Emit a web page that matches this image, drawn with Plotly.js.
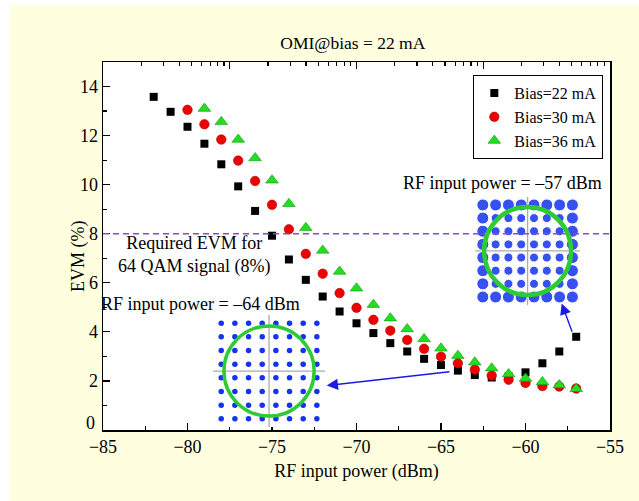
<!DOCTYPE html>
<html>
<head>
<meta charset="utf-8">
<script src="https://cdn.plot.ly/plotly-3.0.1.min.js"></script>
<style>
  html, body { margin: 0; padding: 0; background: #ffffff; }
  #chart { position: absolute; left: 10px; top: 5px; width: 629px; height: 496px; }
</style>
</head>
<body>
<div id="chart"></div>
<script>
// ---- Data ----
const x22 = [-82,-81,-80,-79,-78,-77,-76,-75,-74,-73,-72,-71,-70,-69,-68,-67,-66,-65,-64,-63,-62,-61,-60,-59,-58,-57];
const evm22 = [13.58,12.97,12.36,11.67,10.83,9.93,8.93,7.92,6.95,6.12,5.44,4.83,4.35,3.95,3.54,3.2,2.9,2.65,2.42,2.24,2.14,2.18,2.35,2.72,3.2,3.8];
const x30 = [-80,-79,-78,-77,-76,-75,-74,-73,-72,-71,-70,-69,-68,-67,-66,-65,-64,-63,-62,-61,-60,-59,-58,-57];
const evm30 = [13.05,12.46,11.84,10.98,10.15,9.18,8.18,7.18,6.37,5.58,4.98,4.49,4.05,3.67,3.31,2.99,2.72,2.46,2.22,2.05,1.92,1.79,1.77,1.69];
const x36 = [-79,-78,-77,-76,-75,-74,-73,-72,-71,-70,-69,-68,-67,-66,-65,-64,-63,-62,-61,-60,-59,-58,-57];
const evm36 = [13.1,12.56,11.84,11.09,10.18,9.22,8.24,7.32,6.46,5.78,5.11,4.56,4.12,3.71,3.33,3.03,2.76,2.52,2.28,2.1,1.96,1.83,1.68];
const seriesNames = ['Bias=22 mA','Bias=30 mA','Bias=36 mA'];
const requiredEVM = 8;
// y tick labels (0 is placed separately, slightly raised as in the original)
const yTickVals = [2,4,6,8,10,12,14];
// 64-QAM constellation levels (I and Q)
const qamLevels = [-7,-5,-3,-1,1,3,5,7];
// top (log-style) axis tick values
const topMajor = [1,10,100,1000,10000];
const topMinor = [2,3,4,5,6,7,8,9,20,30,40,50,60,70,80,90,200,300,400,500,600,700,800,900,2000,3000,4000,5000,6000,7000,8000,9000];

// ---- Build constellation grid ----
const gI = [], gQ = [];
qamLevels.forEach(q => qamLevels.forEach(i => { gI.push(i); gQ.push(q); }));
const noisySizes = gI.map((v, k) => (Math.abs(v) === 7 || Math.abs(gQ[k]) === 7) ? 12 : 9);

const serif = 'Liberation Serif, Times New Roman, serif';
const blue = '#1432F0';
const green = '#2DCC35';

const traces = [
  {x: x22, y: evm22, name: seriesNames[0], type: 'scatter', mode: 'markers',
   marker: {symbol: 'square', size: 8, color: '#000000'}},
  {x: x30, y: evm30, name: seriesNames[1], type: 'scatter', mode: 'markers',
   marker: {symbol: 'circle', size: 9.5, color: '#EE0000', line: {color: '#B00000', width: 0.6}}},
  {x: x36, y: evm36, name: seriesNames[2], type: 'scatter', mode: 'markers',
   marker: {symbol: 'triangle-up', size: 11, color: '#22DD22', line: {color: '#119911', width: 0.6}}},
  {x: [null], y: [null], xaxis: 'x2', yaxis: 'y', showlegend: false, hoverinfo: 'skip', mode: 'markers'},
  // clean constellation (-64 dBm)
  {x: gI, y: gQ, xaxis: 'x3', yaxis: 'y3', type: 'scatter', mode: 'markers', showlegend: false,
   marker: {size: 5.5, color: blue}},
  // noisy constellation (-57 dBm)
  {x: gI, y: gQ, xaxis: 'x4', yaxis: 'y4', type: 'scatter', mode: 'markers', showlegend: false,
   marker: {size: noisySizes, color: blue, opacity: 0.85}}
];

const insetAxis = {range: [-8.2, 8.2], showgrid: false, zeroline: false, showticklabels: false,
  ticks: '', showline: false, fixedrange: true};

const layout = {
  width: 629, height: 496,
  margin: {l: 93, r: 29, t: 57, b: 71},
  paper_bgcolor: '#FFFFE0',
  plot_bgcolor: '#FFFFFF',
  font: {family: serif, size: 18, color: '#000000'},
  title: {text: 'OMI@bias = 22 mA', font: {family: serif, size: 17.5, color: '#000'},
          x: 0.545, xref: 'container', y: 0.923, yref: 'container', xanchor: 'center', yanchor: 'middle'},
  showlegend: true,
  legend: {x: 0.73, y: 0.965, xanchor: 'left', yanchor: 'top', bgcolor: '#FFFFFF',
           bordercolor: '#000000', borderwidth: 1.2, font: {family: serif, size: 16},
           itemwidth: 30, tracegroupgap: 0},
  xaxis: {range: [-85, -55], dtick: 5, tick0: -85, ticks: 'inside', ticklen: 7, tickwidth: 1.2,
          tickcolor: '#000', showline: true, linecolor: '#000', linewidth: 1.5, mirror: true,
          showgrid: false, zeroline: false,
          minor: {dtick: 2.5, ticks: 'inside', ticklen: 4, tickwidth: 1.2, tickcolor: '#000', showgrid: false},
          title: {text: 'RF input power (dBm)', font: {family: serif, size: 18}, standoff: 8},
          tickfont: {family: serif, size: 18}},
  xaxis2: {type: 'log', range: [0, 4], overlaying: 'x', side: 'top', anchor: 'y',
           tickmode: 'array', tickvals: topMajor, ticks: 'inside', ticklen: 7, tickwidth: 1.2,
           tickcolor: '#000', showticklabels: false, showgrid: false, zeroline: false, showline: false,
           minor: {tickmode: 'array', tickvals: topMinor, ticks: 'inside', ticklen: 4, tickwidth: 1.2,
                   tickcolor: '#000', showgrid: false}},
  yaxis: {range: [0, 15], tickmode: 'array', tickvals: yTickVals, ticks: 'inside', ticklen: 7, tickwidth: 1.2,
          tickcolor: '#000', showline: true, linecolor: '#000', linewidth: 1.5, mirror: true,
          showgrid: false, zeroline: false,
          minor: {dtick: 1, tick0: 0, ticks: 'inside', ticklen: 4, tickwidth: 1.2, tickcolor: '#000', showgrid: false},
          tickfont: {family: serif, size: 18}},
  xaxis3: Object.assign({}, insetAxis, {domain: [0.217, 0.438], anchor: 'y3'}),
  yaxis3: Object.assign({}, insetAxis, {domain: [0.008, 0.3125], anchor: 'x3'}),
  xaxis4: Object.assign({}, insetAxis, {domain: [0.734, 0.941], anchor: 'y4'}),
  yaxis4: Object.assign({}, insetAxis, {domain: [0.340, 0.633], anchor: 'x4'}),
  shapes: [
    {type: 'line', xref: 'paper', yref: 'y', x0: 0, x1: 1, y0: requiredEVM, y1: requiredEVM,
     line: {color: '#8050C0', width: 1.5, dash: '6px,4px'}, layer: 'above'},
    // crosshairs
    {type: 'line', xref: 'x3', yref: 'y3', x0: 0, x1: 0, y0: -8.2, y1: 8.2, line: {color: '#AAAAAA', width: 1.3}, layer: 'below'},
    {type: 'line', xref: 'x3', yref: 'y3', x0: -8.2, x1: 8.2, y0: 0, y1: 0, line: {color: '#AAAAAA', width: 1.3}, layer: 'below'},
    {type: 'line', xref: 'x4', yref: 'y4', x0: 0, x1: 0, y0: -8.2, y1: 8.2, line: {color: '#AAAAAA', width: 1.3}, layer: 'below'},
    {type: 'line', xref: 'x4', yref: 'y4', x0: -8.2, x1: 8.2, y0: 0, y1: 0, line: {color: '#AAAAAA', width: 1.3}, layer: 'below'},
    // circles
    {type: 'circle', xref: 'x3', yref: 'y3', x0: -6.6, x1: 6.6, y0: -6.6, y1: 6.6, line: {color: green, width: 3.5}, layer: 'above'},
    {type: 'circle', xref: 'x4', yref: 'y4', x0: -6.8, x1: 6.8, y0: -6.7, y1: 6.7, line: {color: green, width: 4.5}, layer: 'above'}
  ],
  annotations: [
    {xref: 'paper', yref: 'paper', x: 0, y: 0.47, xshift: -25, textangle: -90,
     xanchor: 'center', yanchor: 'middle', text: 'EVM (%)', showarrow: false, font: {family: serif, size: 18}},
    {xref: 'paper', yref: 'y', x: 0, y: 0, xanchor: 'right', yanchor: 'middle', xshift: -6, yshift: 7,
     text: '0', showarrow: false, font: {family: serif, size: 18}},
    {xref: 'x', yref: 'y', x: -79.6, y: 7.13, text: 'Required EVM for<br>64 QAM signal (8%)',
     showarrow: false, font: {family: serif, size: 18}, align: 'center'},
    {xref: 'x', yref: 'y', x: -79.26, y: 5.14, text: 'RF input power = –64 dBm',
     showarrow: false, font: {family: serif, size: 18}},
    {xref: 'x', yref: 'y', x: -61.39, y: 10.07, text: 'RF input power = –57 dBm',
     showarrow: false, font: {family: serif, size: 18}},
    {xref: 'x', yref: 'y', axref: 'x', ayref: 'y', x: -71.76, y: 1.81, ax: -64.41, ay: 2.38,
     text: '', showarrow: true, arrowhead: 2, arrowsize: 1.6, arrowwidth: 1.4, arrowcolor: '#1A1AE6'},
    {xref: 'x', yref: 'y', axref: 'x', ayref: 'y', x: -57.86, y: 5.16, ax: -57.21, ay: 3.94,
     text: '', showarrow: true, arrowhead: 2, arrowsize: 1.6, arrowwidth: 1.4, arrowcolor: '#1A1AE6'}
  ]
};

Plotly.newPlot('chart', traces, layout, {displayModeBar: false, staticPlot: true});
</script>
</body>
</html>
